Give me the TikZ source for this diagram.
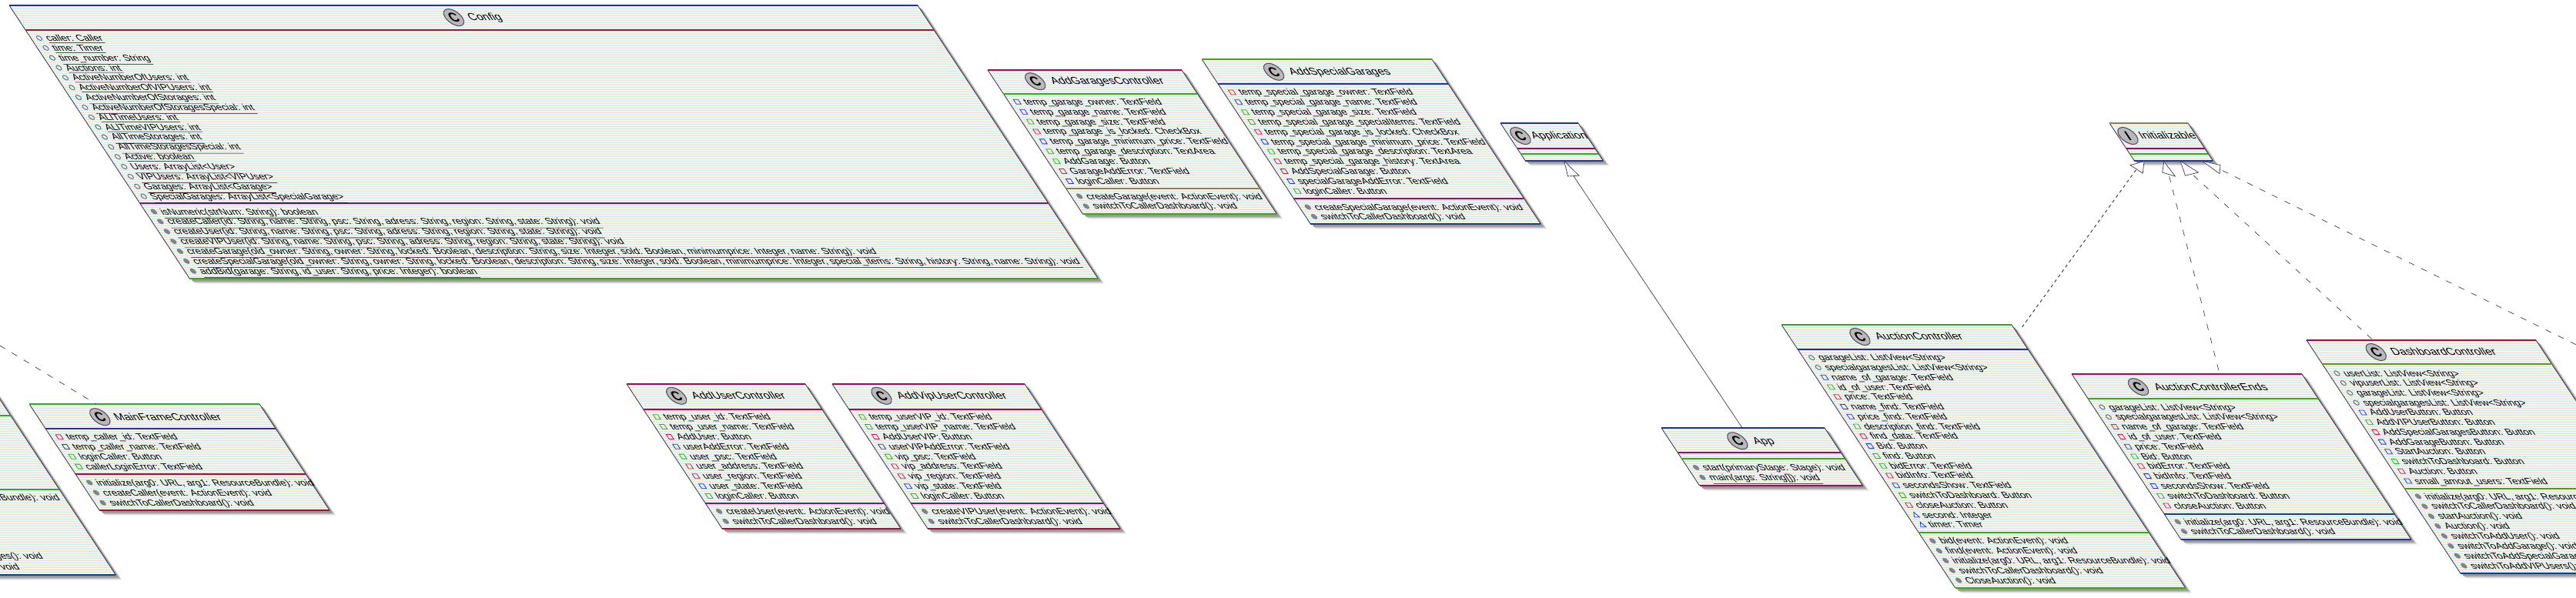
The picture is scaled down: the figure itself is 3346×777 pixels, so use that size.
\documentclass[tikz,border=0pt]{standalone}
\usepackage{fontspec}
\newfontfamily\umlfont[FakeStretch=1.12]{Liberation Sans}
\newfontfamily\spotfont{Liberation Sans}
\newfontfamily\spotserif{Liberation Serif}
\definecolor{uR}{HTML}{A01048}
\definecolor{uG}{HTML}{3FA31F}
\definecolor{uN}{HTML}{1A3A90}
\definecolor{uD}{HTML}{7A8A60}
\definecolor{uE}{HTML}{3A3044}
\definecolor{iR}{HTML}{D02040}
\definecolor{iG}{HTML}{30B020}
\definecolor{iB}{HTML}{2040C0}
\definecolor{iO}{HTML}{5F7080}
\definecolor{iM}{HTML}{80848A}
\definecolor{sa}{HTML}{FFCCFF}
\definecolor{sb}{HTML}{FFFFCC}
\definecolor{sc}{HTML}{CCFFFF}
\newcount\nodeid
\newcount\rowidx
\def\kshear{0.66}
\tikzset{
  x=0.75pt,y=-0.75pt,
  every node/.style={inner sep=0pt,outer sep=0pt},
  memtext/.style={anchor=base west,transform shape,text=black,font=\umlfont\fontsize{8.6}{10}\selectfont},
  endtext/.style={anchor=base east,transform shape,text=black,font=\umlfont\fontsize{8.6}{10}\selectfont},
  titletext/.style={anchor=base west,transform shape,text=black,font=\umlfont\fontsize{9.8}{12}\selectfont},
  hline/.style={line width=0.8pt},
  edgeline/.style={uE,line width=0.6pt},
  spotcircle/.style={draw=uE!85,fill=gray!55,line width=0.8pt},
  conn/.style={uE,line width=0.5pt},
  dashconn/.style={conn,dash pattern=on 6pt off 7.5pt},
  dotconn/.style={uE,line width=0.7pt,dash pattern=on 3pt off 3pt},
  headline/.style={draw=uE,fill=white,line width=0.5pt},
}
% #1 X, #2 Y, #3 width, #4 height, #5 sep1, #6 sep2 (all relative), #7 colours (4 letters)
\def\ucolors#1#2#3#4{\def\ctop{u#1}\def\csa{u#2}\def\csb{u#3}\def\cbot{u#4}}
\newcommand\uclass[7]{%
  \ucolors#7%
  \begin{scope}[shift={(#1,#2)},cm={1,0,-\kshear,1,(0,0)}]
  \def\uW{#3}\def\uH{#4}\def\uX{#1}\def\uY{#2}%
  \fill[gray!20] (3.7,6.5) -- ++(#3,0) -- ++(0,#4) -- ++(-#3,0) -- cycle;
  \fill[gray!50] (2.7,5) -- ++(#3,0) -- ++(0,#4) -- ++(-#3,0) -- cycle;
  \fill[gray!80] (1.7,3.5) -- ++(#3,0) -- ++(0,#4) -- ++(-#3,0) -- cycle;
  \begin{scope}
    \clip (0,0) rectangle (#3,#4);
    \fill[sa] (0,0) rectangle (#3,#4);
    \pgfmathtruncatemacro\ra{mod(3-mod(#2,3),3)}%
    \pgfmathtruncatemacro\rb{\ra+3}%
    \pgfmathtruncatemacro\re{#4}%
    \fill[sb] \foreach \r in {\ra,\rb,...,\re} {(0,\r) rectangle (#3,\r+1)};
    \fill[sc] \foreach \r in {\ra,\rb,...,\re} {(0,\r+1) rectangle (#3,\r+2)};
  \end{scope}
  \draw[edgeline] (0,0) -- (0,#4) (#3,0) -- (#3,#4);
  \draw[hline,\ctop] (0,0) -- (#3,0);
  \draw[hline,\csa] (0,#5) -- (#3,#5);
  \draw[hline,\csb] (0,#6) -- (#3,#6);
  \draw[hline,\cbot] (0,#4) -- (#3,#4);
}
\def\enduclass{\end{scope}}
% #1 circle x, #2 text x, #3 y absolute, #4 letter, #5 name
\newcommand\utitle[5]{%
  \pgfmathsetmacro\ty{#3-\uY}%
  \draw[spotcircle] (#1,\ty) circle [x radius=8.25pt,y radius=8.25pt];
  \global\advance\nodeid by 1
  \node[transform shape,text=black,font=\spotfont\bfseries\fontsize{12.5}{13}\selectfont] (n\the\nodeid) at (#1,\ty) {#4};
  \global\advance\nodeid by 1
  \node[titletext] (#5) at (#2,\ty+4.3) {#5};
}
\newcommand\urows[2]{\def\rowfirst{#1}\def\rowdy{#2}\rowidx=0 }
\def\iconx{11}\def\memx{20}
\newcommand\iconsq[1]{\draw[#1,line width=0.6pt] (\iconx-3,\my-3) rectangle (\iconx+3,\my+3);}
\newcommand\mem[2]{%
  \pgfmathsetmacro\my{\rowfirst-\uY+\the\rowidx*\rowdy}%
  \advance\rowidx by 1
  \global\advance\nodeid by 1
  \ifx r#1\relax\iconsq{iR}\fi
  \ifx g#1\relax\iconsq{iG}\fi
  \ifx b#1\relax\iconsq{iB}\fi
  \ifx o#1\relax\draw[iO,line width=0.7pt] (\iconx,\my) circle [radius=2.3pt];\fi
  \ifx m#1\relax\fill[iM] (\iconx,\my) circle [radius=2.7pt];\fi
  \ifx t#1\relax\draw[iB,line width=0.6pt] (\iconx-3.5,\my+3) -- (\iconx+3.5,\my+3) -- (\iconx,\my-3.5) -- cycle;\fi
  \node[memtext] (n\the\nodeid) at (\memx,\my+4) {#2};
}
\newcommand\ul[1]{$\underline{\hbox{#1}}$}
\begin{document}
\begin{tikzpicture}
\useasboundingbox (0,0) rectangle (3346,777);
\fill[white] (0,0) rectangle (3346,777);

% class cut off by the left edge of the picture
\uclass{-306}{510}{300}{237}{30}{126}{GGGN}
  \node[endtext] (cutA) at (292.1,140.7) {eBundle): void};
  \node[endtext] (cutB) at (220,216.7) {ges(): void};
  \node[endtext] (cutC) at (180.9,230) {void};
\enduclass

\uclass{12}{7}{1180}{355}{32}{257}{NRRG}
  \utitle{567}{586}{22.7}{C}{Config}
  \urows{49.5}{12.85}
  \mem{o}{\ul{caller: Caller}}
  \mem{o}{\ul{time: Timer}}
  \mem{o}{\ul{time\_number: String}}
  \mem{o}{\ul{Auctions: int}}
  \mem{o}{\ul{ActiveNumberOfUsers: int}}
  \mem{o}{\ul{ActiveNumberOfVIPUsers: int}}
  \mem{o}{\ul{ActiveNumberOfStorages: int}}
  \mem{o}{\ul{ActiveNumberOfStoragesSpecial: int}}
  \mem{o}{\ul{ALlTimeUsers: int}}
  \mem{o}{\ul{ALlTimeVIPUsers: int}}
  \mem{o}{\ul{AllTimeStorages: int}}
  \mem{o}{\ul{AllTimeStoragesSpecial: int}}
  \mem{o}{\ul{Active: boolean}}
  \mem{o}{\ul{Users: ArrayList<User>}}
  \mem{o}{\ul{VIPUsers: ArrayList<VIPUser>}}
  \mem{o}{\ul{Garages: ArrayList<Garage>}}
  \mem{o}{\ul{SpecialGarages: ArrayList<SpecialGarage>}}
  \urows{275}{12.87}
  \mem{m}{\ul{isNumeric(strNum: String): boolean}}
  \mem{m}{\ul{createCaller(id: String, name: String, psc: String, adress: String, region: String, state: String): void}}
  \mem{m}{\ul{createUser(id: String, name: String, psc: String, adress: String, region: String, state: String): void}}
  \mem{m}{\ul{createVIPUser(id: String, name: String, psc: String, adress: String, region: String, state: String): void}}
  \mem{m}{\ul{createGarage(old\_owner: String, owner: String, locked: Boolean, description: String, size: Integer, sold: Boolean, minimumprice: Integer, name: String): void}}
  \mem{m}{\ul{createSpecialGarage(old\_owner: String, owner: String, locked: Boolean, description: String, size: Integer, sold: Boolean, minimumprice: Integer, special\_items: String, history: String, name: String): void}}
  \mem{m}{\ul{addBid(garage: String, id\_user: String, price: Integer): boolean}}
\enduclass

\uclass{1283}{91}{252}{187}{31}{154}{RGDG}
  \utitle{52}{72.6}{105.7}{C}{AddGaragesController}
  \urows{132.3}{12.9}
  \mem{b}{temp\_garage\_owner: TextField}
  \mem{b}{temp\_garage\_name: TextField}
  \mem{g}{temp\_garage\_size: TextField}
  \mem{r}{temp\_garage\_is\_locked: CheckBox}
  \mem{b}{temp\_garage\_minimum\_price: TextField}
  \mem{g}{temp\_garage\_description: TextArea}
  \mem{g}{AddGarage: Button}
  \mem{r}{GarageAddError: TextField}
  \mem{b}{loginCaller: Button}
  \urows{255}{13}
  \mem{m}{createGarage(event: ActionEvent): void}
  \mem{m}{switchToCallerDashboard(): void}
\enduclass

\uclass{1561}{77}{299}{214}{32}{181}{GNRN}
  \utitle{82.8}{103}{93.3}{C}{AddSpecialGarages}
  \urows{120}{12.83}
  \mem{r}{temp\_special\_garage\_owner: TextField}
  \mem{b}{temp\_special\_garage\_name: TextField}
  \mem{g}{temp\_special\_garage\_size: TextField}
  \mem{g}{temp\_special\_garage\_specialItems: TextField}
  \mem{r}{temp\_special\_garage\_is\_locked: CheckBox}
  \mem{b}{temp\_special\_garage\_minimum\_price: TextField}
  \mem{g}{temp\_special\_garage\_description: TextArea}
  \mem{r}{temp\_special\_garage\_history: TextArea}
  \mem{r}{AddSpecialGarage: Button}
  \mem{b}{specialGarageAddError: TextField}
  \mem{g}{loginCaller: Button}
  \urows{269}{12.5}
  \mem{m}{createSpecialGarage(event: ActionEvent): void}
  \mem{m}{switchToCallerDashboard(): void}
\enduclass

\uclass{1949}{160}{101}{49}{33}{40}{NRGN}
  \utitle{15}{29.4}{176.5}{C}{Application}
\enduclass

\uclass{2740}{160}{102}{49}{33}{40}{DRGN}
  \utitle{13}{28}{176.5}{I}{Initializable}
\enduclass

\uclass{38}{525}{299}{138}{32}{91}{GNRR}
  \utitle{80.8}{100}{541.7}{C}{MainFrameController}
  \urows{567.7}{12.8}
  \mem{r}{temp\_caller\_id: TextField}
  \mem{b}{temp\_caller\_name: TextField}
  \mem{g}{loginCaller: Button}
  \mem{g}{callerLoginError: TextField}
  \urows{627}{13.1}
  \mem{m}{initialize(arg0: URL, arg1: ResourceBundle): void}
  \mem{m}{createCaller(event: ActionEvent): void}
  \mem{m}{switchToCallerDashboard(): void}
\enduclass

\uclass{814}{499}{232}{188}{33}{155}{RRRR}
  \utitle{54.6}{74.8}{514.3}{C}{AddUserController}
  \urows{541.7}{12.85}
  \mem{g}{temp\_user\_id: TextField}
  \mem{g}{temp\_user\_name: TextField}
  \mem{r}{AddUser: Button}
  \mem{b}{userAddError: TextField}
  \mem{g}{user\_psc: TextField}
  \mem{r}{user\_address: TextField}
  \mem{r}{user\_region: TextField}
  \mem{b}{user\_state: TextField}
  \mem{g}{loginCaller: Button}
  \urows{664.3}{13}
  \mem{m}{createUser(event: ActionEvent): void}
  \mem{m}{switchToCallerDashboard(): void}
\enduclass

\uclass{1081}{499}{250}{188}{33}{155}{RRRR}
  \utitle{53.9}{74.4}{514.3}{C}{AddVipUserController}
  \urows{541.7}{12.85}
  \mem{g}{temp\_userVIP\_id: TextField}
  \mem{g}{temp\_userVIP\_name: TextField}
  \mem{r}{AddUserVIP: Button}
  \mem{b}{userVIPAddError: TextField}
  \mem{g}{vip\_psc: TextField}
  \mem{r}{vip\_address: TextField}
  \mem{r}{vip\_region: TextField}
  \mem{b}{vip\_state: TextField}
  \mem{g}{loginCaller: Button}
  \urows{664.3}{13}
  \mem{m}{createVIPUser(event: ActionEvent): void}
  \mem{m}{switchToCallerDashboard(): void}
\enduclass

\uclass{2158}{556}{212}{75}{32}{40}{NRGR}
  \utitle{87.7}{108.5}{572.8}{C}{App}
  \urows{607.5}{12.8}
  \mem{m}{start(primaryStage: Stage): void}
  \mem{m}{\ul{main(args: String[]): void}}
\enduclass

\uclass{2314}{422}{299}{342}{32}{270}{GNGG}
  \utitle{91.7}{112}{437.5}{C}{AuctionController}
  \urows{464.7}{12.77}
  \mem{o}{garageList: ListView<String>}
  \mem{o}{specialgaragesList: ListView<String>}
  \mem{b}{name\_of\_garage: TextField}
  \mem{g}{id\_of\_user: TextField}
  \mem{r}{price: TextField}
  \mem{b}{name\_find: TextField}
  \mem{b}{price\_find: TextField}
  \mem{g}{description\_find: TextField}
  \mem{r}{find\_data: TextField}
  \mem{b}{Bid: Button}
  \mem{g}{find: Button}
  \mem{g}{bidError: TextField}
  \mem{r}{bidInfo: TextField}
  \mem{b}{secondsShow: TextField}
  \mem{g}{switchToDashboard: Button}
  \mem{r}{closeAuction: Button}
  \mem{t}{second: Integer}
  \mem{t}{timer: Timer}
  \urows{702.8}{12.8}
  \mem{m}{bid(event: ActionEvent): void}
  \mem{m}{find(event: ActionEvent): void}
  \mem{m}{initialize(arg0: URL, arg1: ResourceBundle): void}
  \mem{m}{switchToCallerDashboard(): void}
  \mem{m}{CloseAuction(): void}
\enduclass

\uclass{2691}{486}{299}{215}{32}{182}{RGNN}
  \utitle{75.5}{96.6}{502.7}{C}{AuctionControllerEnds}
  \urows{529}{12.8}
  \mem{o}{garageList: ListView<String>}
  \mem{o}{specialgaragesList: ListView<String>}
  \mem{r}{name\_of\_garage: TextField}
  \mem{r}{id\_of\_user: TextField}
  \mem{b}{price: TextField}
  \mem{g}{Bid: Button}
  \mem{r}{bidError: TextField}
  \mem{b}{bidInfo: TextField}
  \mem{b}{secondsShow: TextField}
  \mem{g}{switchToDashboard: Button}
  \mem{r}{closeAuction: Button}
  \urows{678}{12.5}
  \mem{m}{initialize(arg0: URL, arg1: ResourceBundle): void}
  \mem{m}{switchToCallerDashboard(): void}
\enduclass

\uclass{2996}{442}{298}{303}{31}{193}{RGGN}
  \utitle{80}{100}{457.5}{C}{DashboardController}
  \urows{485}{12.73}
  \mem{o}{userList: ListView<String>}
  \mem{o}{vipuserList: ListView<String>}
  \mem{o}{garageList: ListView<String>}
  \mem{o}{specialgaragesList: ListView<String>}
  \mem{b}{AddUserButton: Button}
  \mem{g}{AddVIPUserButton: Button}
  \mem{r}{AddSpecialGaragesButton: Button}
  \mem{b}{AddGarageButton: Button}
  \mem{b}{StartAuction: Button}
  \mem{g}{switchToDashboard: Button}
  \mem{r}{Auction: Button}
  \mem{b}{small\_amout\_users: TextField}
  \urows{645}{12.86}
  \mem{m}{initialize(arg0: URL, arg1: ResourceBundle): void}
  \mem{m}{switchToCallerDashboard(): void}
  \mem{m}{startAuction(): void}
  \mem{m}{Auction(): void}
  \mem{m}{switchToAddUser(): void}
  \mem{m}{switchToAddGarage(): void}
  \mem{m}{switchToAddSpecialGarages(): void}
  \mem{m}{switchToAddVIPUsers(): void}
\enduclass

% connectors
\coordinate (freeA) at (0,449);
\coordinate (mainTop) at (125,525);
\draw[dashconn] (freeA) -- (mainTop);
\coordinate (appTop) at (2263,556);
\coordinate (appBase) at (2043.8,228.6);
\draw[conn] (appTop) -- (appBase);
\coordinate (appTip) at (2031.7,209.2);
\coordinate (appB1) at (2036.6,229);
\coordinate (appB2) at (2051,228.2);
\draw[headline] (appTip) -- (appB1) -- (appB2) -- cycle;
\coordinate (aucTop) at (2626.5,425);
\coordinate (aucBase) at (2775,220);
\coordinate (i1T) at (2785,209.6);
\coordinate (i1a) at (2767,214.6);
\coordinate (i1b) at (2783.2,225);
\draw[dotconn] (aucTop) -- (aucBase);
\draw[headline] (i1T) -- (i1a) -- (i1b) -- cycle;
\coordinate (endTop) at (2881.8,481);
\coordinate (endBase) at (2817,226.5);
\coordinate (i2T) at (2810.8,210);
\coordinate (i2a) at (2808.7,224);
\coordinate (i2b) at (2825.3,229);
\draw[dashconn] (endTop) -- (endBase);
\draw[headline] (i2T) -- (i2a) -- (i2b) -- cycle;
\coordinate (dashTop) at (3080.6,440.4);
\coordinate (dashBase) at (2847,226);
\coordinate (i3T) at (2832,209.2);
\coordinate (i3a) at (2838.5,228.2);
\coordinate (i3b) at (2855.4,224);
\draw[dashconn] (dashTop) -- (dashBase);
\draw[headline] (i3T) -- (i3a) -- (i3b) -- cycle;
\coordinate (freeB) at (3346,447.8);
\coordinate (farBase) at (2883.5,220);
\coordinate (i4T) at (2860.5,209.2);
\coordinate (i4a) at (2884,214.6);
\coordinate (i4b) at (2883,225.7);
\draw[dashconn] (freeB) -- (farBase);
\draw[headline] (i4T) -- (i4a) -- (i4b) -- cycle;
\end{tikzpicture}
\end{document}
